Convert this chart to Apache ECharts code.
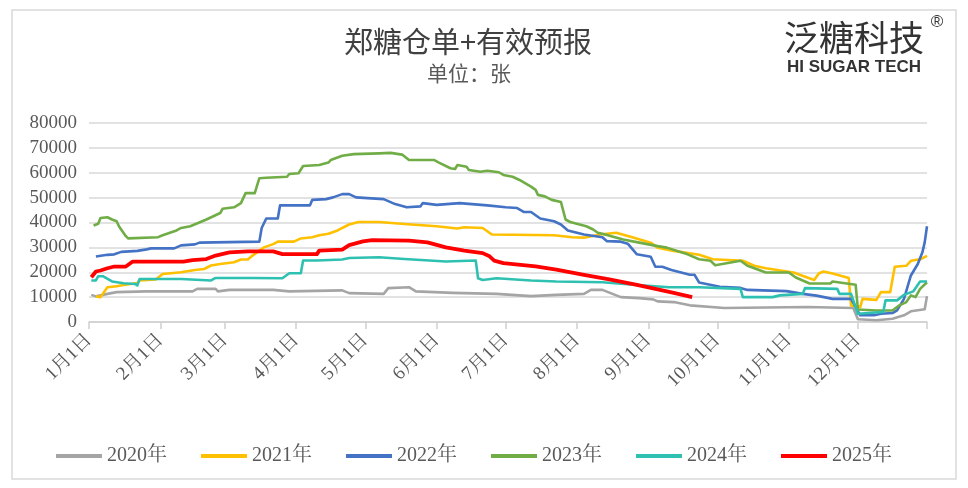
<!DOCTYPE html>
<html>
<head>
<meta charset="utf-8">
<script src="https://cdn.jsdelivr.net/npm/echarts@6/dist/echarts.min.js"></script>
<style>
html,body{margin:0;padding:0;background:#fff;}
#chart{width:968px;height:488px;}
</style>
</head>
<body>
<div id="chart"></div>
<script>
// Month lengths of the year (x axis is a daily category axis, Jan 1 .. Dec 31)
const monthDays = [31,28,31,30,31,30,31,31,30,31,30,31];
const seriesNames = ['2020年','2021年','2022年','2023年','2024年','2025年'];
const yTicks = [0,10000,20000,30000,40000,50000,60000,70000,80000];

// Each point: [day index from Jan 1 (0 = 1月1日), value in 张]
const s2020 = [[1,10900],[3,10300],[8,11300],[12,12000],[25,12300],[45,12300],[47,13300],[55,13300],[56,12300],[61,12900],[80,12900],[87,12300],[110,12700],[113,11600],[128,11300],[130,13600],[139,14000],[142,12300],[158,11700],[177,11300],[192,10400],[203,10900],[215,11300],[218,12900],[223,12900],[231,10000],[239,9600],[245,9100],[247,8300],[254,8000],[261,6700],[276,5600],[312,6000],[332,5600],[334,1100],[342,700],[349,1300],[354,2700],[357,4300],[363,5100],[364,10400]];
const s2021 = [[3,10300],[5,10000],[8,14000],[12,14400],[15,14900],[21,15700],[22,16700],[29,17100],[32,19300],[40,20000],[46,20900],[50,21300],[53,22700],[57,23300],[63,24000],[66,25100],[69,25100],[71,26700],[76,30000],[80,31300],[82,32300],[89,32300],[92,33600],[97,34100],[100,34900],[104,35500],[108,36800],[110,37800],[113,39200],[117,40200],[126,40200],[137,39400],[151,38500],[160,37600],[163,38100],[171,37800],[175,35200],[202,34900],[210,34100],[215,33900],[222,35200],[229,35900],[236,34100],[244,31900],[247,29900],[254,28600],[265,27000],[271,25200],[284,24600],[289,22600],[294,21600],[306,19900],[315,16900],[317,19500],[319,20300],[323,19500],[330,17700],[331,6600],[335,6000],[336,9300],[342,8900],[344,12000],[348,12000],[350,22200],[355,22600],[357,24600],[361,25200],[364,26600]];
const s2022 = [[3,26300],[8,27000],[11,27200],[14,28200],[21,28600],[25,29200],[27,29600],[37,29600],[40,30800],[46,31200],[48,31900],[74,32300],[75,37800],[77,41600],[82,41600],[83,46900],[96,46900],[97,49100],[103,49400],[106,50100],[110,51400],[113,51400],[116,50100],[121,49800],[128,49400],[133,47400],[138,46100],[144,46500],[145,47800],[151,47100],[161,47800],[173,46900],[181,46100],[186,45800],[189,44200],[192,44200],[196,41600],[202,40500],[205,39200],[208,36800],[215,35200],[223,34100],[225,32500],[231,32300],[234,31500],[238,27200],[244,26200],[246,22200],[249,22200],[253,20900],[261,19000],[263,19000],[265,15900],[274,14200],[283,13700],[286,12900],[303,12400],[310,11300],[316,10600],[323,9300],[331,9300],[333,6000],[335,2700],[341,2700],[344,3300],[349,3600],[351,4700],[354,9300],[357,18700],[360,23300],[362,28000],[363,32000],[364,38500]];
const s2023 = [[2,38800],[4,39500],[5,41800],[8,42100],[10,41200],[12,40500],[13,38500],[16,34500],[17,33600],[30,34100],[32,34900],[38,36800],[40,37800],[44,38500],[51,41200],[54,42500],[57,43800],[58,45500],[63,46100],[66,47800],[68,51800],[72,51800],[74,57800],[77,58000],[86,58400],[87,59500],[91,59800],[93,62700],[100,63100],[104,64100],[105,65100],[110,66800],[115,67500],[126,67800],[131,68000],[136,67300],[139,65100],[150,65100],[152,64100],[157,61800],[159,61500],[160,63100],[164,62400],[165,61100],[170,60400],[173,60800],[178,60200],[180,59100],[184,58400],[187,57100],[192,54400],[194,53100],[195,51100],[198,50500],[201,49100],[205,48200],[207,41200],[209,40200],[216,38500],[219,37200],[221,35900],[223,35500],[232,33200],[239,31900],[247,30500],[251,29900],[260,27200],[265,25200],[270,24600],[272,22800],[283,24600],[286,22600],[289,21600],[294,19900],[304,19900],[307,17900],[313,15500],[322,15500],[323,16300],[333,15000],[334,5000],[342,4600],[349,4600],[352,6700],[355,8000],[357,10700],[359,10000],[361,13300],[364,16000]];
const s2024 = [[1,16700],[3,16700],[4,18400],[6,18400],[10,16300],[15,15600],[20,15300],[21,14700],[22,17300],[40,17300],[53,16700],[55,17700],[71,17700],[84,17600],[87,19600],[92,19600],[93,24700],[99,24700],[110,25100],[113,25700],[126,26000],[137,25300],[155,24300],[168,24700],[169,17600],[171,16900],[177,17600],[192,16700],[203,16300],[223,16000],[238,14900],[252,14000],[265,14000],[283,13300],[284,10000],[297,10000],[300,10700],[310,11300],[311,13600],[325,13300],[326,11300],[331,11300],[334,3300],[345,4000],[346,8700],[351,8700],[354,10900],[358,12300],[361,16300],[364,16300]];
const s2025 = [[1,18000],[3,20300],[5,20700],[8,21600],[11,22300],[16,22300],[19,24300],[41,24300],[45,24900],[51,25300],[55,26700],[61,28000],[69,28400],[80,28400],[84,27300],[99,27300],[100,28700],[110,29100],[113,30900],[119,32400],[123,32900],[139,32700],[147,32000],[155,30000],[163,28700],[171,27700],[174,26400],[176,24700],[180,23700],[194,22400],[203,21100],[215,18900],[226,17100],[238,14900],[247,13100],[254,11700],[262,10000]];

const seriesData = [s2020, s2021, s2022, s2023, s2024, s2025];
const colors = ['#A5A5A5','#FFC000','#4472C4','#70AD47','#2EC1B1','#FF0000'];
const widths = [2.6,2.6,2.6,2.6,2.6,3.8];

// category list: "M-D"
const categories = [];
monthDays.forEach((n, m) => { for (let d = 1; d <= n; d++) categories.push((m+1) + '-' + d); });
const isMonthStart = (idx, val) => /-1$/.test(val);

const serif = "'Liberation Serif','Noto Serif CJK SC','Noto Sans CJK SC',serif";
const chart = echarts.init(document.getElementById('chart'));
chart.setOption({
  animation: false,
  backgroundColor: '#ffffff',
  color: colors,
  grid: { left: 89, right: 41, top: 123, bottom: 166, containLabel: false },
  legend: {
    data: seriesNames,
    left: 51, top: 441,
    icon: 'rect', itemWidth: 46, itemHeight: 4, itemGap: 34,
    textStyle: { fontFamily: serif, fontSize: 20, color: '#595959' }
  },
  xAxis: {
    type: 'category', data: categories, boundaryGap: false,
    axisLine: { lineStyle: { color: '#d0d0d0', width: 1.5 } },
    axisTick: { interval: (i, v) => isMonthStart(i, v) || i === categories.length - 1, length: 7, lineStyle: { color: '#d0d0d0', width: 1.5 } },
    axisLabel: {
      interval: isMonthStart, rotate: 45, margin: 15,
      fontFamily: serif, fontSize: 19, color: '#595959',
      formatter: v => { const p = v.split('-'); return p[0] + '月' + p[1] + '日'; }
    },
    splitLine: { show: false }
  },
  yAxis: {
    type: 'value', min: yTicks[0], max: yTicks[yTicks.length-1], interval: 10000,
    axisLine: { show: false }, axisTick: { show: false },
    axisLabel: { fontFamily: serif, fontSize: 19, color: '#595959', margin: 12, formatter: v => String(v) },
    splitLine: { lineStyle: { color: '#d9d9d9', width: 1.5 } }
  },
  series: seriesNames.map((name, k) => ({
    name, type: 'line', data: seriesData[k], showSymbol: false, symbol: 'none',
    lineStyle: { width: widths[k], color: colors[k], join: 'round' },
    itemStyle: { color: colors[k] }, z: 2 + k
  })),
  graphic: [
    { type: 'rect', shape: { x: 12, y: 10, width: 944, height: 469 }, style: { fill: 'none', stroke: '#d9d9d9', lineWidth: 1.5 }, silent: true },
    { type: 'text', x: 468, y: 42, style: { text: '郑糖仓单+有效预报', font: "normal 29px 'Noto Sans CJK SC'", fill: '#404040', textAlign: 'center', textVerticalAlign: 'middle' } },
    { type: 'text', x: 469, y: 73, style: { text: '单位：张', font: "normal 21px 'Noto Sans CJK SC'", fill: '#595959', textAlign: 'center', textVerticalAlign: 'middle' } },
    { type: 'text', x: 854, y: 38, style: { text: '泛糖科技', font: "normal 35px 'Noto Sans CJK SC'", fill: '#333333', textAlign: 'center', textVerticalAlign: 'middle' } },
    { type: 'text', x: 854, y: 67, style: { text: 'HI SUGAR TECH', font: "bold 17px 'Liberation Sans'", fill: '#333333', textAlign: 'center', textVerticalAlign: 'middle' } },
    { type: 'text', x: 937, y: 22, style: { text: '®', font: "normal 17px 'Liberation Sans'", fill: '#333333', textAlign: 'center', textVerticalAlign: 'middle' } }
  ]
});
</script>
</body>
</html>
